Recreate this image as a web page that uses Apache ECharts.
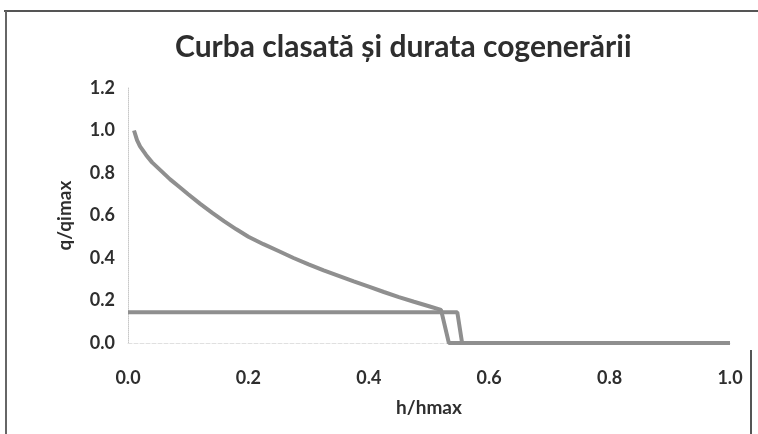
<!DOCTYPE html>
<html>
<head>
<meta charset="utf-8">
<script src="https://cdn.jsdelivr.net/npm/echarts@6/dist/echarts.min.js"></script>
<style>
  html, body { margin: 0; padding: 0; background: #fff; }
  #chart { width: 758px; height: 434px; }
</style>
</head>
<body>
<div id="chart"></div>
<script>
// curba clasata: [h/hmax, q/qimax]
const curbaClasata = [
    [0.01, 1.0], [0.015, 0.955], [0.02, 0.925], [0.03, 0.885], [0.04, 0.85],
    [0.055, 0.81], [0.07, 0.77], [0.085, 0.735], [0.10, 0.70], [0.12, 0.655],
    [0.14, 0.612], [0.16, 0.572], [0.18, 0.535], [0.20, 0.50], [0.225, 0.465],
    [0.25, 0.433], [0.275, 0.40], [0.30, 0.37], [0.325, 0.342], [0.35, 0.316],
    [0.375, 0.29], [0.40, 0.265], [0.425, 0.24], [0.45, 0.216], [0.475, 0.194],
    [0.50, 0.173], [0.52, 0.156], [0.533, 0.0], [1.0, 0.0]
];
// durata cogenerarii
const durataCogenerarii = [
    [0.0, 0.145], [0.547, 0.145], [0.555, 0.0], [1.0, 0.0]
];
const xTicks = [0, 0.2, 0.4, 0.6, 0.8, 1.0];
const yTicks = [0, 0.2, 0.4, 0.6, 0.8, 1.0, 1.2];

const font = 'Lato, "Open Sans", sans-serif';
const textColor = '#2e2e2e';
const lineColor = '#8f8f8f';

const myChart = echarts.init(document.getElementById('chart'));
const option = {
    animation: false,
    backgroundColor: '#fff',
    title: {
        text: 'Curba clasată și durata cogenerării',
        left: 170,
        top: 27,
        textStyle: {fontFamily: font, fontWeight: 'bold', fontSize: 30, color: textColor}
    },
    grid: {left: 128, right: 28, top: 88, bottom: 91},
    xAxis: {
        type: 'value',
        min: xTicks[0],
        max: xTicks[xTicks.length - 1],
        interval: 0.2,
        name: 'h/hmax',
        nameLocation: 'middle',
        nameGap: 55,
        nameTextStyle: {fontFamily: font, fontWeight: 'bold', fontSize: 19, color: textColor},
        axisLine: {show: true, onZero: false, lineStyle: {color: '#e0e0e0', type: 'dashed'}},
        axisTick: {show: false},
        splitLine: {show: false},
        axisLabel: {
            margin: 26,
            fontFamily: font, fontWeight: 'bold', fontSize: 18, color: textColor,
            formatter: (v) => v.toFixed(1)
        }
    },
    yAxis: {
        type: 'value',
        min: yTicks[0],
        max: yTicks[yTicks.length - 1],
        interval: 0.2,
        name: 'q/qimax',
        nameLocation: 'middle',
        nameGap: 54,
        nameTextStyle: {fontFamily: font, fontWeight: 'bold', fontSize: 19, color: textColor},
        axisLine: {show: true, lineStyle: {color: '#c8c8c8', type: 'dotted'}},
        axisTick: {show: false},
        splitLine: {show: false},
        axisLabel: {
            margin: 13,
            fontFamily: font, fontWeight: 'bold', fontSize: 18, color: textColor,
            formatter: (v) => v.toFixed(1)
        }
    },
    series: [
        {
            name: 'Curba clasată',
            type: 'line',
            data: curbaClasata,
            showSymbol: false,
            lineStyle: {color: lineColor, width: 4}
        },
        {
            name: 'Durata cogenerării',
            type: 'line',
            data: durataCogenerarii,
            showSymbol: false,
            lineStyle: {color: lineColor, width: 4}
        }
    ],
    graphic: [
        {type: 'line', shape: {x1: 4, y1: 11, x2: 758, y2: 11}, style: {stroke: '#555', lineWidth: 2}},
        {type: 'line', shape: {x1: 6, y1: 11, x2: 6, y2: 434}, style: {stroke: '#666', lineWidth: 2}},
        {type: 'line', shape: {x1: 751, y1: 350, x2: 751, y2: 434}, style: {stroke: '#555', lineWidth: 2}}
    ]
};
myChart.setOption(option);
</script>
</body>
</html>
